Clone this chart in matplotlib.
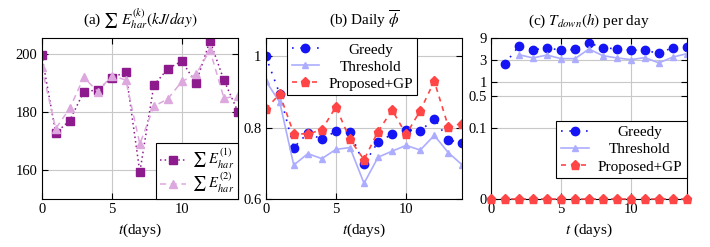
import numpy as np
import matplotlib.pyplot as plt

plt.rcParams['font.family'] = ['Liberation Serif', 'DejaVu Serif']
plt.rcParams['mathtext.fontset'] = 'stix'
plt.rcParams['font.size'] = 10
plt.rcParams['axes.linewidth'] = 0.8

# (a) 収穫エネルギー
days = np.arange(0, 15)
e_har1 = [199.7, 172.8, 177.1, 187.0, 187.7, 191.8, 193.9, 159.3, 189.3, 195.0, 197.6, 190.0, 204.6, 191.0, 180.1]
e_har2 = [195.6, 174.3, 181.3, 192.0, 187.1, 192.6, 191.1, 169.0, 182.0, 184.6, 190.6, 193.0, 201.4, 184.8, 185.6]

# (b) Daily phi
phi_greedy = [1.000, 0.894, 0.744, 0.785, 0.767, 0.790, 0.787, 0.697, 0.760, 0.781, 0.794, 0.790, 0.825, 0.766, 0.756]
phi_threshold = [0.931, 0.871, 0.695, 0.727, 0.713, 0.739, 0.744, 0.644, 0.717, 0.734, 0.750, 0.737, 0.778, 0.730, 0.695]
phi_proposed = [0.852, 0.894, 0.783, 0.782, 0.794, 0.858, 0.767, 0.710, 0.789, 0.849, 0.781, 0.847, 0.930, 0.803, 0.811]

# (c) T_down
days_greedy = np.arange(1, 15)
tdown_greedy = [2.49, 6.15, 5.05, 5.5, 4.97, 5.13, 7.03, 5.66, 5.23, 4.97, 4.95, 4.2, 5.66, 5.86]
days_threshold = np.arange(2, 15)
tdown_threshold = [3.94, 3.35, 3.88, 3.23, 3.23, 5.23, 3.75, 3.35, 3.08, 3.4, 2.61, 3.51, 4.14]
tdown_proposed = [0] * 15
tdown_ticks = [0, 0.1, 0.5, 1, 3, 9]
tdown_ticklabels = ['0', '0.1', '0.5', '1', '3', '9']

c_purple = '#8E1B8E'
c_plum = '#DDA8DD'
c_blue = '#1414F5'
c_lblue = '#ADADFF'
c_red = '#FF4545'

fig = plt.figure(figsize=(7.1, 2.47), dpi=100)
ax1 = fig.add_axes([0.0587, 0.1943, 0.2765, 0.6507])
ax2 = fig.add_axes([0.3742, 0.1943, 0.2770, 0.6507])
ax3 = fig.add_axes([0.6915, 0.1943, 0.2760, 0.6507])
renderer = fig.canvas.get_renderer()


def style(ax):
    ax.grid(color='#C8C8C8', lw=0.8)
    ax.set_axisbelow(True)
    ax.tick_params(direction='in', top=True, right=True, length=4, width=0.8, labelsize=10.5, pad=3)
    ax.set_xlim(0, 14)
    ax.set_xticks([0, 5, 10])


def legend(ax, **kw):
    leg = ax.legend(borderaxespad=0, fancybox=False, edgecolor='black', framealpha=1,
                    numpoints=1, fontsize=11, borderpad=0.3, labelspacing=0.22,
                    handletextpad=0.6, handlelength=1.8, **kw)
    leg.get_frame().set_linewidth(0.8)
    # 凡例の文字を中央寄せ（ピクセル単位でずらす）
    widths = [t.get_window_extent(renderer).width for t in leg.get_texts()]
    for t, w in zip(leg.get_texts(), widths):
        t.set_x((max(widths) - w) / 2)
    return leg


# (a)
ax1.plot(days, e_har1, ls=(0, (1, 2)), color=c_purple, marker='s', ms=5.5, lw=1.1,
         label=r'$\sum\ E_{har}^{(1)}$')
ax1.plot(days, e_har2, ls=(0, (4, 3)), color=c_plum, marker='^', ms=5.5, lw=1.1,
         label=r'$\sum\ E_{har}^{(2)}$')
style(ax1)
ax1.set_ylim(150, 205.5)
ax1.set_yticks([160, 180, 200])
ax1.set_title(r'(a) $\sum\ E_{har}^{(k)}(kJ/day)$', fontsize=11, pad=10)
ax1.set_xlabel(r'$t$(days)', fontsize=11)
leg1 = ax1.legend(loc='lower right', borderaxespad=0, fancybox=False, edgecolor='black', framealpha=1,
                  handlelength=1.8, numpoints=1, fontsize=10.5, borderpad=0.25, labelspacing=0.02,
                  handletextpad=0.4)
leg1.get_frame().set_linewidth(0.8)

# (b)
ax2.plot(days, phi_greedy, ls=(0, (1, 4)), color=c_blue, marker='o', ms=6, lw=1.2, label='Greedy')
ax2.plot(days, phi_threshold, ls='-', color=c_lblue, marker='^', ms=5, lw=1.2, label='Threshold')
ax2.plot(days, phi_proposed, ls=(0, (3, 3)), color=c_red, marker='p', ms=6.5, lw=1.2, label='Proposed+GP')
style(ax2)
ax2.set_ylim(0.6, 1.05)
ax2.set_yticks([0.6, 0.8, 1.0])
ax2.set_yticklabels(['0.6', '0.8', '1'])
ax2.set_title(r'(b) Daily $\overline{\phi}$', fontsize=11, pad=10)
ax2.set_xlabel(r'$t$(days)', fontsize=11)
legend(ax2, loc='upper center', bbox_to_anchor=(0.44, 1.0))

# (c)
ax3.plot(days_greedy, tdown_greedy, ls=(0, (1, 4)), color=c_blue, marker='o', ms=6, lw=1.2, label='Greedy')
ax3.plot(days_threshold, tdown_threshold, ls='-', color=c_lblue, marker='^', ms=5, lw=1.2, label='Threshold')
ax3.plot(days, tdown_proposed, ls=(0, (3, 3)), color=c_red, marker='p', ms=6.5, lw=1.2,
         label='Proposed+GP', clip_on=False, zorder=5)
ax3.set_yscale('symlog', linthresh=0.1, linscale=1.4)
style(ax3)
ax3.set_ylim(0, 9)
ax3.set_yticks(tdown_ticks)
ax3.set_yticklabels(tdown_ticklabels)
ax3.yaxis.set_minor_locator(plt.NullLocator())
ax3.set_title(r'(c) $T_{down}(h)$ per day', fontsize=11, pad=10)
ax3.set_xlabel(r'$t$ (days)', fontsize=11)
legend(ax3, loc='lower right', bbox_to_anchor=(1.0, 0.13))

plt.savefig('out.png', dpi=100)
